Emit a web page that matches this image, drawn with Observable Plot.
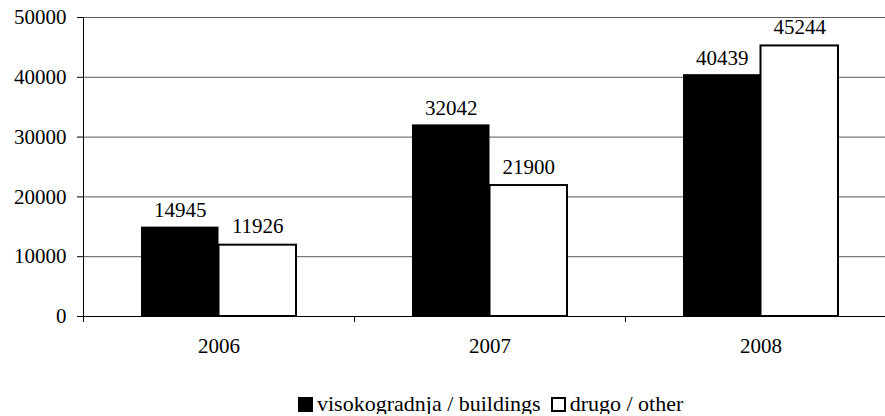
<!DOCTYPE html>
<html><head><meta charset="utf-8">
<script src="https://cdn.jsdelivr.net/npm/d3@7"></script>
<script src="https://cdn.jsdelivr.net/npm/@observablehq/plot@0.6"></script>
<style>
body{margin:0;background:#fff;overflow:hidden;}
#wrap{width:906px;}
#chart svg{max-width:none;display:block;}
#legend{display:flex;justify-content:flex-start;align-items:center;font-family:"Liberation Serif",serif;font-size:22px;color:#000;margin-top:24px;padding-left:298px;line-height:20px;white-space:nowrap;}
.item{display:flex;align-items:center;margin:0 10px 0 0;}
.sw{width:15px;height:15px;box-sizing:border-box;margin-right:4px;}
</style></head><body><div id="wrap"><div id="chart"></div><div id="legend"></div></div>
<script>
const years = ["2006", "2007", "2008"];
const buildings = [14945, 32042, 40439];
const other = [11926, 21900, 45244];
const yTicks = [0, 10000, 20000, 30000, 40000, 50000];
const seriesNames = ["visokogradnja / buildings", "drugo / other"];
const seriesFill = ["#000", "#fff"];

const W = 906, ML = 83, MR = 10;
const pi = 0.428, po = pi / 2;
const step = (W - ML - MR) / (years.length - pi + 2 * po);
const bw = step * (1 - pi);

const dataB = years.map((y, i) => ({year: y, value: buildings[i]}));
const dataO = years.map((y, i) => ({year: y, value: other[i]}));
const last = years[years.length - 1];

const chart = Plot.plot({
  width: W, height: 370,
  marginLeft: ML, marginRight: MR, marginTop: 17, marginBottom: 54,
  style: {fontFamily: "'Liberation Serif', serif", fontSize: "21px", color: "#000", background: "#fff"},
  x: {domain: years, paddingInner: pi, paddingOuter: po, axis: null, label: null},
  y: {domain: [0, 50000], axis: null, label: null},
  marks: [
    Plot.gridY(yTicks.filter(d => d > 0), {stroke: "#5a5a5a", strokeOpacity: 1}),
    Plot.barY(dataB, {x: "year", y: "value", fill: seriesFill[0], insetLeft: 0, insetRight: bw / 2}),
    Plot.barY(dataO, {x: "year", y: "value", fill: seriesFill[1], stroke: "#000", strokeWidth: 2, insetLeft: bw / 2, insetRight: 0}),
    Plot.ruleY([0], {stroke: "#000"}),
    Plot.ruleX([years[0]], {x: d => d, y1: 50000, y2: -1000, dx: -step / 2, stroke: "#000"}),
    Plot.ruleX(years.slice(1), {x: d => d, y1: 0, y2: -1000, dx: -step / 2, stroke: "#000"}),
    Plot.ruleX([last], {x: d => d, y1: 0, y2: -1000, dx: step / 2, stroke: "#000"}),
    Plot.axisY({ticks: yTicks, tickSize: 6, tickPadding: 11, tickFormat: d => String(d), label: null}),
    Plot.axisX({tickSize: 0, tickPadding: 22, label: null}),
    Plot.text(dataB, {x: "year", y: "value", text: d => String(d.value), dx: -bw / 4, dy: -10, lineAnchor: "bottom"}),
    Plot.text(dataO, {x: "year", y: "value", text: d => String(d.value), dx: bw / 4, dy: -12, lineAnchor: "bottom"})
  ]
});
document.getElementById("chart").appendChild(chart);

const legend = document.getElementById("legend");
seriesNames.forEach((name, i) => {
  const item = document.createElement("div");
  item.className = "item";
  const sw = document.createElement("div");
  sw.className = "sw";
  sw.style.background = seriesFill[i];
  sw.style.border = "2px solid #000";
  const label = document.createElement("span");
  label.textContent = name;
  item.appendChild(sw);
  item.appendChild(label);
  legend.appendChild(item);
});
</script>
</body></html>
